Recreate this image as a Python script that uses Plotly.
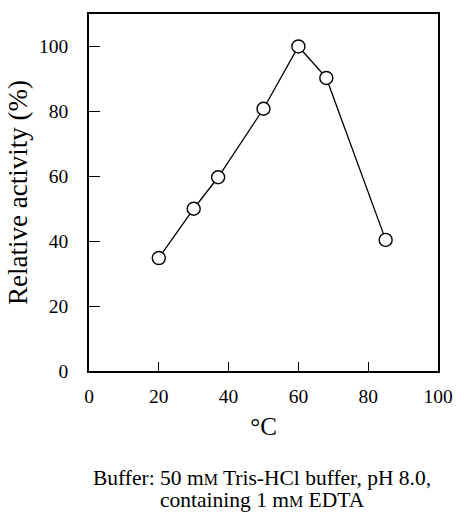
import plotly.graph_objects as go

temperature_c = [20, 30, 37, 50, 60, 68, 85]
relative_activity = [34.8, 50.0, 59.7, 80.8, 100.0, 90.3, 40.4]
x_ticks = [0, 20, 40, 60, 80, 100]
y_ticks = [0, 20, 40, 60, 80, 100]
caption_lines = [
    "Buffer: 50 m<span style='font-size:16px'>M</span> Tris-HCl buffer, pH 8.0,",
    "containing 1 m<span style='font-size:16px'>M</span> EDTA",
]

FONT = "Liberation Serif, Times New Roman, serif"

fig = go.Figure()
fig.add_trace(go.Scatter(
    x=temperature_c, y=relative_activity, mode="lines+markers",
    line=dict(color="black", width=1.3),
    marker=dict(symbol="circle", size=13, color="white",
                line=dict(color="black", width=1.4)),
    showlegend=False, cliponaxis=False,
))

axis_common = dict(showline=True, linecolor="black", linewidth=1.6, mirror=True,
                   ticks="inside", tickcolor="black", tickwidth=1.3,
                   showgrid=False, zeroline=False,
                   tickfont=dict(family=FONT, size=19.5, color="black"))

fig.update_xaxes(range=[0, 100], tickvals=x_ticks, ticklen=9,
                 ticklabelstandoff=7,
                 title=dict(text="°C", font=dict(family=FONT, size=25, color="black"),
                            standoff=11),
                 **axis_common)
fig.update_yaxes(range=[0, 110], tickvals=y_ticks, ticklen=11,
                 ticklabelstandoff=15,
                 title=dict(text="Relative activity (%)",
                            font=dict(family=FONT, size=27, color="black"),
                            standoff=4),
                 **axis_common)

for text, ypos in zip(caption_lines, [-0.299, -0.360]):
    fig.add_annotation(
        xref="paper", yref="paper", x=0.496, y=ypos, xanchor="center", yanchor="middle",
        text=text, showarrow=False, align="center",
        font=dict(family=FONT, size=21.5, color="black"),
    )

fig.update_layout(
    width=465, height=514,
    margin=dict(l=89, r=17, t=13, b=143),
    paper_bgcolor="white", plot_bgcolor="white",
)

fig.write_html("out.html")
